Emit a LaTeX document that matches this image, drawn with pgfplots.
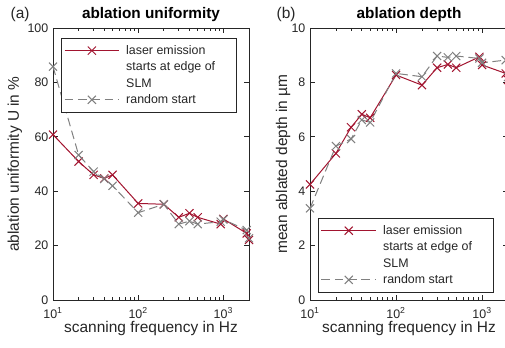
\documentclass[border=0pt]{standalone}
\usepackage{fontspec}
\setmainfont{Liberation Sans}
\usepackage{pgfplots}
\pgfplotsset{compat=1.18}

\definecolor{axgray}{RGB}{38,38,38}
\definecolor{matred}{RGB}{162,20,47}
\definecolor{matgray}{RGB}{128,128,128}

\pgfplotsset{
  legend image code/.code={%
    \draw[mark repeat=2, mark phase=2, #1]
      plot coordinates {(0pt,0pt) (20.5pt,0pt) (41pt,0pt)};},
  every axis/.append style={
    scale only axis, height=204pt,
    xmin=10, xmax=2000, ymin=0,
    clip=false,
    axis line style={axgray, line width=0.5pt},
    every tick/.style={axgray, line width=0.5pt},
    major tick length=3.5pt, minor tick length=2pt,
    xtick={10,100,1000},
    xticklabels={10\textsuperscript{1},10\textsuperscript{2},10\textsuperscript{3}},
    minor xtick={20,30,40,50,60,70,80,90,200,300,400,500,600,700,800,900,2000},
    tick label style={font=\fontsize{9.3}{11}\selectfont, text=axgray},
    xticklabel style={yshift=-2pt},
    /pgf/number format/assume math mode=true,
    label style={font=\fontsize{11.6}{13}\selectfont, text=axgray},
    xlabel={scanning frequency in Hz},
    xlabel style={at={(axis description cs:0.5,-0.103)}, anchor=center},
    title style={font=\bfseries\fontsize{11.5}{13}\selectfont,
      at={(axis description cs:0.5,1)}, anchor=base, yshift=0.75pt},
    legend cell align=left,
    legend style={draw=axgray, line width=0.5pt, fill=white, anchor=north west,
      font=\fontsize{9.3}{11}\selectfont, text=axgray,
      inner xsep=2pt, inner ysep=3.5pt, row sep=1pt,
      nodes={text height=7.5pt, text depth=2pt, inner sep=0.9pt},
      /tikz/every odd column/.append style={column sep=4pt}},
  },
}

\begin{document}
\begin{tikzpicture}
% (a) ablation uniformity
\begin{semilogxaxis}[at={(39.75pt,35.25pt)}, anchor=south west,
    width=147pt, ymax=100, ytick={0,20,40,60,80,100},
    title={ablation uniformity},
    ylabel={ablation uniformity U in \%},
    ylabel style={at={(axis description cs:-0.194,0.5)}, anchor=center},
    legend style={at={(axis description cs:0.041,0.963)}}]
  \addplot[matred, line width=0.75pt, mark=x, mark size=4.3pt,
    mark options={solid, line width=0.75pt}] coordinates {
    (10,60.8) (20,50.9) (30,46.0) (40,44.7) (50,46.0) (100,35.5) (200,35.2)
    (300,30.4) (400,31.9) (500,30.4) (930,27.9) (1000,29.8) (1880,24.5) (2000,22.1)};
  \addlegendentry{\makebox[80pt][l]{laser emission}}
  \addlegendimage{empty legend}
  \addlegendentry{starts at edge of}
  \addlegendimage{empty legend}
  \addlegendentry{SLM}
  \addplot[matgray, line width=0.75pt, dash pattern=on 6.5pt off 3.5pt,
    mark=x, mark size=4.3pt, mark options={solid, line width=0.75pt}] coordinates {
    (10,85.8) (20,53.3) (30,47.2) (40,44.5) (50,42.0) (100,32.1) (200,35.2)
    (300,27.9) (400,29.0) (500,27.9) (930,28.8) (1000,29.6) (1880,25.7) (2000,22.7)};
  \addlegendentry{random start}
  \node[anchor=base west, font=\fontsize{11.6}{13}\selectfont, text=axgray,
    xshift=-35.25pt, yshift=6.75pt] at (axis description cs:0,1) {(a)};
\end{semilogxaxis}
% (b) ablation depth
\begin{semilogxaxis}[at={(232.5pt,35.25pt)}, anchor=south west,
    width=148.5pt, ymax=10, ytick={0,2,4,6,8,10},
    title={ablation depth},
    ylabel={mean ablated depth in µm},
    ylabel style={at={(axis description cs:-0.136,0.5)}, anchor=center},
    legend style={at={(axis description cs:0.04,0.301)}}]
  \addplot[matred, line width=0.75pt, mark=x, mark size=4.3pt,
    mark options={solid, line width=0.75pt}] coordinates {
    (10,4.25) (20,5.39) (30,6.35) (40,6.83) (50,6.70) (100,8.27) (200,7.90)
    (300,8.54) (400,8.66) (500,8.54) (930,8.94) (1000,8.64) (1880,8.33) (2000,8.09)};
  \addlegendentry{\makebox[80pt][l]{laser emission}}
  \addlegendimage{empty legend}
  \addlegendentry{starts at edge of}
  \addlegendimage{empty legend}
  \addlegendentry{SLM}
  \addplot[matgray, line width=0.75pt, dash pattern=on 6.5pt off 3.5pt,
    mark=x, mark size=4.3pt, mark options={solid, line width=0.75pt}] coordinates {
    (10,3.37) (20,5.66) (30,5.92) (40,6.62) (50,6.53) (100,8.33) (200,8.21)
    (300,8.97) (400,8.92) (500,8.97) (930,8.88) (1000,8.72) (1880,8.82) (2000,8.20)};
  \addlegendentry{random start}
  \node[anchor=base west, font=\fontsize{11.6}{13}\selectfont, text=axgray,
    xshift=-28.5pt, yshift=6.75pt] at (axis description cs:0,1) {(b)};
\end{semilogxaxis}
\pgfresetboundingbox
\useasboundingbox (0pt,0pt) rectangle (378.75pt,260.25pt);
\end{tikzpicture}
\end{document}
